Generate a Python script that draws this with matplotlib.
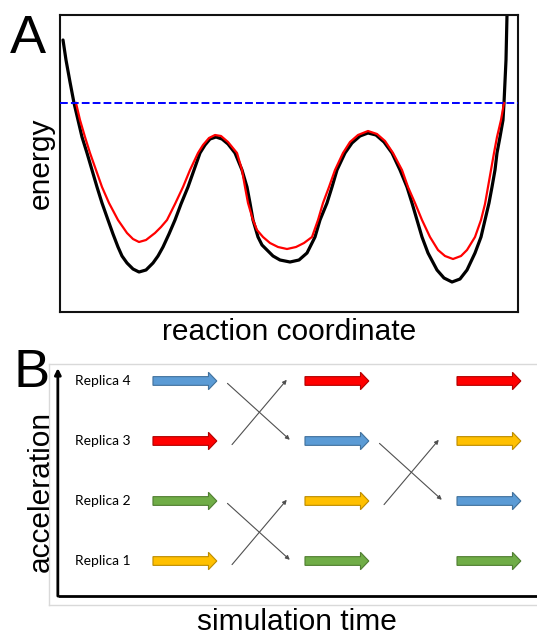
import matplotlib
matplotlib.use('Agg')
import matplotlib.pyplot as plt
from matplotlib.patches import FancyArrow

# panel A: energy profile
black_rc = [3, 6, 10, 14, 18, 22, 27, 32, 37, 42, 48, 53, 58, 62, 67, 73, 79, 86, 93, 98,
            103, 109, 115, 121, 128, 134, 140, 145, 150, 156, 162, 168, 175, 182, 187, 190, 193, 198, 202, 207,
            213, 220, 230, 239, 247, 255, 260, 267, 272, 277, 285, 292, 300, 308, 316, 324, 332, 340, 347, 352,
            357, 362, 368, 377, 384, 392, 400, 407, 415, 421, 425, 429, 432, 435, 437, 440, 443, 444, 446, 447]
black_e = [272, 252, 230, 209, 192, 175, 159, 142, 125, 109, 92, 78, 65, 56, 49, 43, 40, 42, 49, 56,
           65, 78, 92, 108, 125, 142, 159, 167, 173, 175, 173, 168, 159, 142, 125, 109, 92, 75, 67, 62,
           56, 52, 50, 52, 59, 75, 92, 109, 125, 142, 159, 169, 176, 179, 177, 170, 159, 142, 125, 109,
           92, 75, 59, 42, 34, 30, 33, 42, 59, 75, 92, 109, 125, 142, 159, 175, 192, 209, 252, 297]

red_rc = [16, 20, 25, 30, 36, 42, 49, 58, 67, 73, 79, 86, 95, 101, 107, 115, 123, 130, 138, 143,
          149, 155, 161, 168, 177, 182, 185, 188, 193, 197, 203, 210, 218, 227, 236, 244, 252, 258, 263, 269,
          275, 283, 290, 298, 308, 317, 325, 333, 342, 348, 355, 362, 370, 378, 385, 393, 401, 407, 415, 421,
          425, 428, 431, 434, 437, 441, 444]
red_e = [209, 192, 175, 159, 142, 125, 109, 92, 79, 73, 70, 72, 79, 85, 92, 108, 125, 142, 159, 167,
         174, 177, 176, 170, 159, 142, 125, 109, 92, 82, 75, 69, 65, 63, 65, 69, 75, 92, 109, 125,
         142, 159, 170, 177, 181, 178, 171, 159, 142, 125, 109, 92, 75, 62, 56, 53, 56, 62, 75, 92,
         108, 125, 142, 159, 175, 192, 209]

boost_level = 209

# panel B: replica exchange scheme
replicas = [1, 2, 3, 4]
replica_labels = ['Replica 1', 'Replica 2', 'Replica 3', 'Replica 4']
columns = [0, 1, 2]
# colour of the arrow at (column, replica)
arrow_colors = [
    ['yellow', 'green', 'red', 'blue'],
    ['green', 'yellow', 'blue', 'red'],
    ['green', 'blue', 'yellow', 'red'],
]
# swaps: (column gap, lower replica, upper replica)
swaps = [(0, 3, 4), (0, 1, 2), (1, 2, 3)]

fill = {'blue': '#5B9BD5', 'red': '#FF0000', 'green': '#70AD47', 'yellow': '#FFC000'}
edge = {'blue': '#41719C', 'red': '#B00000', 'green': '#507E32', 'yellow': '#BC8C00'}

plt.rcParams['font.family'] = ['Liberation Sans', 'DejaVu Sans']

fig = plt.figure(figsize=(5.37, 6.32), dpi=100)

# ---- panel A
axA = fig.add_axes([60 / 537, 320 / 632, 458 / 537, 297 / 632])
axA.plot(black_rc, black_e, color='black', lw=2.3, solid_joinstyle='round',
         solid_capstyle='round', zorder=2)
axA.plot(red_rc, red_e, color='#FF0000', lw=1.6, solid_joinstyle='round', zorder=3)
axA.axhline(boost_level, color='#0000FF', lw=1.4, dashes=(4, 1.6), zorder=4)
axA.set_xlim(0, 458)
axA.set_ylim(0, 297)
axA.set_xticks([])
axA.set_yticks([])
for s in axA.spines.values():
    s.set_linewidth(1.5)
    s.set_color('#111111')
axA.set_xlabel('reaction coordinate', fontsize=21.5, labelpad=4)
axA.set_ylabel('energy', fontsize=21.5, labelpad=4)
fig.text(10 / 537, 1 - 53 / 632, 'A', fontsize=39, ha='left', va='baseline')

# ---- panel B
axB = fig.add_axes([49 / 537, 27 / 632, 491 / 537, 241 / 632])
axB.set_xlim(-0.684, 2.546)
axB.set_ylim(0.267, 4.283)
axB.set_xticks([])
axB.set_yticks([])
for s in axB.spines.values():
    s.set_color('#D9D9D9')
    s.set_linewidth(1.0)

for c in columns:
    for r in replicas:
        col = arrow_colors[c][r - 1]
        axB.add_patch(FancyArrow(c, r, 0.42, 0, width=0.145, head_width=0.29,
                                 head_length=0.055, length_includes_head=True,
                                 facecolor=fill[col], edgecolor=edge[col], lw=0.8, zorder=3))

for r, lab in zip(replicas, replica_labels):
    axB.text(-0.513, r, lab, fontsize=10, family=['Lato', 'DejaVu Sans'],
             ha='left', va='center', color='black')

for c, lo, hi in swaps:
    kw = dict(arrowstyle='-|>', color='#505050', lw=0.8, mutation_scale=6,
              shrinkA=0, shrinkB=0)
    axB.annotate('', xy=(c + 0.90, lo + 0.02), xytext=(c + 0.49, hi - 0.04),
                 arrowprops=kw)
    axB.annotate('', xy=(c + 0.88, hi + 0.02), xytext=(c + 0.52, lo - 0.06),
                 arrowprops=kw)

# axis arrows
axB.annotate('', xy=(0.018, 0.983), xytext=(0.018, 0.037), xycoords='axes fraction',
             arrowprops=dict(arrowstyle='-|>', color='black', lw=2.0, mutation_scale=9,
                             shrinkA=0, shrinkB=0))
axB.plot([0.018, 1.0], [0.037, 0.037], transform=axB.transAxes, color='black',
         lw=2.0, solid_capstyle='butt')

fig.text(41 / 537, 1 - 491 / 632, 'acceleration', fontsize=21.5, rotation=90,
         ha='center', va='center')
fig.text(297 / 537, 1 - 630 / 632, 'simulation time', fontsize=21.5,
         ha='center', va='baseline')
fig.text(14 / 537, 1 - 387 / 632, 'B', fontsize=39, ha='left', va='baseline')

fig.savefig('out.png', dpi=100)
